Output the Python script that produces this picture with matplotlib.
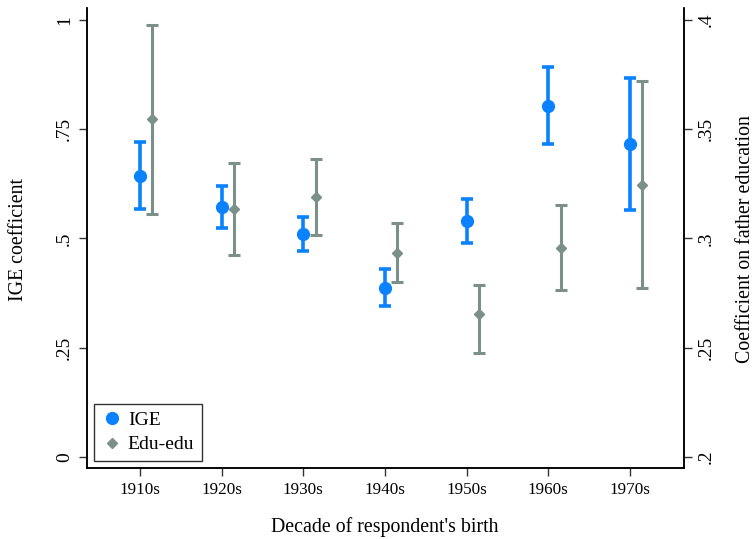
import numpy as np
import matplotlib
matplotlib.use("Agg")
import matplotlib.pyplot as plt
from matplotlib.lines import Line2D

plt.rcParams['font.family'] = ['Liberation Serif', 'DejaVu Serif']

decades = ["1910s", "1920s", "1930s", "1940s", "1950s", "1960s", "1970s"]

# IGE coefficient (left axis)
ige = [0.643, 0.572, 0.510, 0.387, 0.539, 0.803, 0.716]
ige_hi = [0.720, 0.620, 0.550, 0.429, 0.591, 0.891, 0.867]
ige_lo = [0.567, 0.524, 0.471, 0.346, 0.489, 0.717, 0.565]

# Edu-edu coefficient on father education (right axis)
edu = [0.3545, 0.3134, 0.3191, 0.2935, 0.2654, 0.2957, 0.3246]
edu_hi = [0.3978, 0.3345, 0.3365, 0.3072, 0.2789, 0.3154, 0.3720]
edu_lo = [0.3113, 0.2923, 0.3014, 0.2800, 0.2477, 0.2764, 0.2772]

blue = '#0a82ff'
grey = '#7a9088'

x = np.arange(len(decades))
ige = np.array(ige); edu = np.array(edu)
ige_err = [ige - np.array(ige_lo), np.array(ige_hi) - ige]
edu_err = [edu - np.array(edu_lo), np.array(edu_hi) - edu]

fig = plt.figure(figsize=(7.54, 5.39), dpi=100)
ax = fig.add_axes([0.1154, 0.1317, 0.7916, 0.8535])
ax2 = ax.twinx()

ax.errorbar(x, ige, yerr=ige_err, fmt='o', color=blue, ms=8.5,
            elinewidth=2.6, capsize=4.3, capthick=2.6)
ax2.errorbar(x + 0.15, edu, yerr=edu_err, fmt='D', color=grey, ms=5,
             elinewidth=2.2, capsize=4.0, capthick=2.2)

lo, hi = -0.025, 1.027
ax.set_xlim(-0.65, 6.66)
ax.set_ylim(lo, hi)
ax2.set_ylim(0.2 + lo * 0.2, 0.2 + hi * 0.2)

ax.set_xticks(x)
ax.set_xticklabels(decades, fontsize=12.3)
ax.set_yticks([0, 0.25, 0.5, 0.75, 1])
ax.set_yticklabels(['0', '.25', '.5', '.75', '1'], rotation=90, va='center', fontsize=14)
ax2.set_yticks([0.2, 0.25, 0.3, 0.35, 0.4])
ax2.set_yticklabels(['.2', '.25', '.3', '.35', '.4'], rotation=90, va='center', fontsize=14)

for a in (ax, ax2):
    a.tick_params(direction='out', length=6, width=1, color='#333333', pad=4)
    a.spines['top'].set_visible(False)
    for s in ('left', 'right', 'bottom'):
        a.spines[s].set_linewidth(1.1)

# axis titles placed in figure pixels, as in the reference
W, H = 754, 539
fig.text(385 / W, 1 - 527 / H, "Decade of respondent's birth", fontsize=14.3,
         ha='center', va='center')
fig.text(19 / W, 1 - 239 / H, "IGE coefficient", fontsize=14.3, rotation=90,
         ha='center', va='center')
fig.text(745 / W, 1 - 239 / H, "Coefficient on father education", fontsize=14.3,
         rotation=90, ha='center', va='center')

handles = [Line2D([], [], ls='none', marker='o', color=blue, ms=8.5),
           Line2D([], [], ls='none', marker='D', color=grey, ms=5.5)]
leg = ax.legend(handles, ['IGE', 'Edu-edu'], loc='lower left', fontsize=14,
                frameon=True, fancybox=False, edgecolor='black', borderaxespad=0.35,
                handletextpad=0.25, handlelength=1.1, borderpad=0.4, labelspacing=0.35)
leg.get_frame().set_linewidth(1.0)

fig.savefig("out.png", dpi=100)
